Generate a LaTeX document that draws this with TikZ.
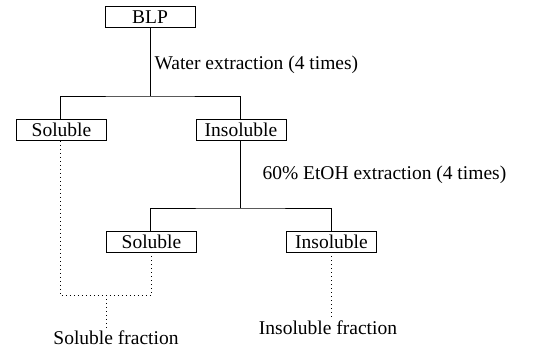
\documentclass[tikz,border=0pt]{standalone}
\usepackage{fontspec}
\setmainfont{Liberation Serif}
\usepackage{tikz}
\usetikzlibrary{positioning}

\tikzset{
  fracbox/.style={draw,line width=0.9pt,minimum width=90pt,minimum height=21pt,inner sep=1pt},
  treeline/.style={line width=0.9pt},
  dotline/.style={line width=1pt,dash pattern=on 1pt off 3pt}
}

\begin{document}
\begin{tikzpicture}[x=1pt,y=-1pt,font=\fontsize{19.5}{22}\selectfont]
\useasboundingbox (0,0) rectangle (535,349);

% Boxes
\node[fracbox] (blp) at (150,17) {BLP};
\node[fracbox] (sol1) at (61.5,130) {Soluble};
\node[fracbox] (ins1) at (241,130) {Insoluble};
\node[fracbox] (sol2) at (151.5,241.5) {Soluble};
\node[fracbox] (ins2) at (331.5,241.5) {Insoluble};

% Split points
\coordinate (split1) at (150,96);
\coordinate (split2) at (240,208);
\coordinate (join) at (106,295);

% Extraction steps
\node[anchor=west] (water) at (151,65) {Water extraction (4 times)};
\node[anchor=west] (etoh) at (259,175) {60\% EtOH extraction (4 times)};

% Fractions
\node (solfrac) at (116,338) {Soluble fraction};
\node (insfrac) at (328,328) {Insoluble fraction};

% Tree lines
\draw[treeline] (blp.south) -- (split1);
\draw[treeline] (sol1.north -| 60,0) |- (split1) -| (ins1.north -| 240,0);
\draw[treeline] (ins1.south -| split2) -- (split2);
\draw[treeline] (sol2.north -| 150,0) |- (split2) -| (ins2.north);

% Dotted collection lines
\draw[dotline] (sol1.south -| 60,0) |- (join) -| (sol2.south);
\draw[dotline] (join) -- (join |- solfrac.north);
\draw[dotline] (ins2.south) -- (ins2.south |- insfrac.north);

\end{tikzpicture}
\end{document}
